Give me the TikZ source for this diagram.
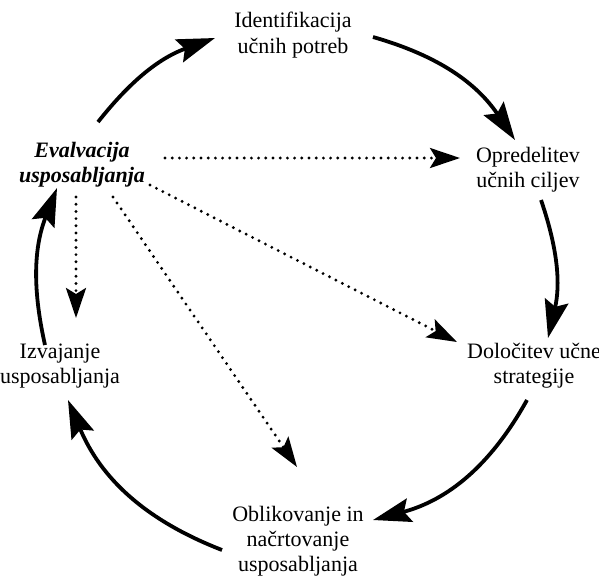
\documentclass[tikz,border=0pt]{standalone}
\usepackage{fontspec}
\setmainfont{Liberation Serif}
\usetikzlibrary{arrows.meta}
\begin{document}
\begin{tikzpicture}[x=0.5pt,y=0.5pt,
  lbl/.style={align=center,font=\fontsize{11}{12.6}\selectfont,inner sep=0pt},
  cyc/.style={line width=1.9pt,-{Stealth[length=19pt,width=12pt,inset=3pt]}},
  dotarrow/.style={line width=1.6pt,line cap=round,dash pattern=on 0pt off 3.6pt,-{Stealth[length=15pt,width=10pt,inset=3pt]}}]
\useasboundingbox (0,0) rectangle (599,-575);
% labels
\node[lbl] (ident) at (293,-35) {Identifikacija\\učnih potreb};
\node[lbl,font=\fontsize{11}{12.6}\selectfont\bfseries\itshape] (eval) at (82,-165) {Evalvacija\\usposabljanja};
\node[lbl] (opred) at (528,-170) {Opredelitev\\učnih ciljev};
\node[lbl] (dolo) at (534,-366) {Določitev učne\\strategije};
\node[lbl] (izva) at (60,-366) {Izvajanje\\usposabljanja};
\node[lbl] (oblik) at (298,-541) {Oblikovanje in\\načrtovanje\\usposabljanja};
% arrow end points
\coordinate (a1) at (98,-122);  \coordinate (b1) at (215,-38);
\coordinate (a2) at (373,-37);  \coordinate (b2) at (515,-140);
\coordinate (a3) at (541,-200); \coordinate (b3) at (548,-338);
\coordinate (a4) at (527,-400); \coordinate (b4) at (373,-520);
\coordinate (a5) at (222,-550); \coordinate (b5) at (68,-400);
\coordinate (a6) at (45,-345);  \coordinate (b6) at (57,-188);
% cycle arrows
\draw[cyc] (a1) to[bend left=16] (b1);
\draw[cyc] (a2) to[bend left=20] (b2);
\draw[cyc] (a3) to[bend left=16] (b3);
\draw[cyc] (a4) to[bend left=23] (b4);
\draw[cyc] (a5) to[bend left=23] (b5);
\draw[cyc] (a6) to[bend left=17] (b6);
% dotted arrows
\coordinate (d1s) at (165,-158); \coordinate (d1e) at (460,-158);
\coordinate (d2s) at (150,-185); \coordinate (d2e) at (457,-342);
\coordinate (d3s) at (113,-197); \coordinate (d3e) at (297,-467);
\coordinate (d4s) at (76,-197);  \coordinate (d4e) at (76,-318);
\draw[dotarrow] (d1s) -- (d1e);
\draw[dotarrow] (d2s) -- (d2e);
\draw[dotarrow] (d3s) -- (d3e);
\draw[dotarrow] (d4s) -- (d4e);
\end{tikzpicture}
\end{document}
